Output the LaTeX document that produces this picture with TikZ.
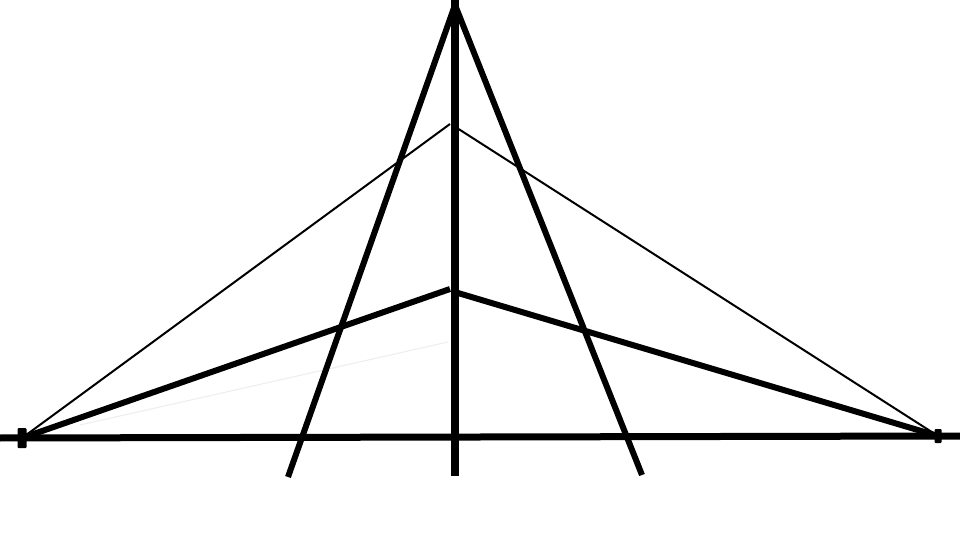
\documentclass[tikz,border=0pt]{standalone}
\usepackage{tikz}
\usetikzlibrary{backgrounds}

\begin{document}
\begin{tikzpicture}[x=0.5pt, y=-0.5pt,
                axis/.style={draw, line width=3.5pt},
                mast/.style={draw, line width=4pt},
                leg/.style={draw, line width=3pt},
                strut/.style={draw, line width=3pt},
                guy/.style={draw, line width=1pt},
                ghost/.style={draw, black!7, line width=0.5pt},
                anchorbox/.style={rectangle, fill=black, inner sep=0pt, rounded corners=0.5pt},
            ]
            \fill[white] (0,0) rectangle (960,540);
            \useasboundingbox (0,0) rectangle (960,540);
            % points
            \coordinate (west) at (0,438);
            \coordinate (east) at (960,436);
            \coordinate (top) at (455,0);
            \coordinate (apex) at (455,5);
            \coordinate (foot) at (455,476);
            \coordinate (legl) at (288,477);
            \coordinate (legr) at (642,475);
            \coordinate (hil) at (450,124);
            \coordinate (hir) at (457,128);
            \coordinate (lol) at (450,289);
            \coordinate (lor) at (458,293);
            \node[anchorbox, minimum width=4.5pt, minimum height=10pt] (L) at (22,438) {};
            \node[anchorbox, minimum width=3.5pt, minimum height=7pt] (R) at (938,436) {};
            % lines
            \path[ghost] (80,425) -- (448,342);
            \path[axis] (west) -- (east);
            \path[guy] (L.center) -- (hil);
            \path[guy] (hir) -- (R.center);
            \path[strut] (L.center) -- (lol);
            \path[strut] (lor) -- (R.center);
            \path[leg] (apex) -- (legl);
            \path[leg] (apex) -- (legr);
            \path[mast] (top) -- (foot);
\end{tikzpicture}
\end{document}
